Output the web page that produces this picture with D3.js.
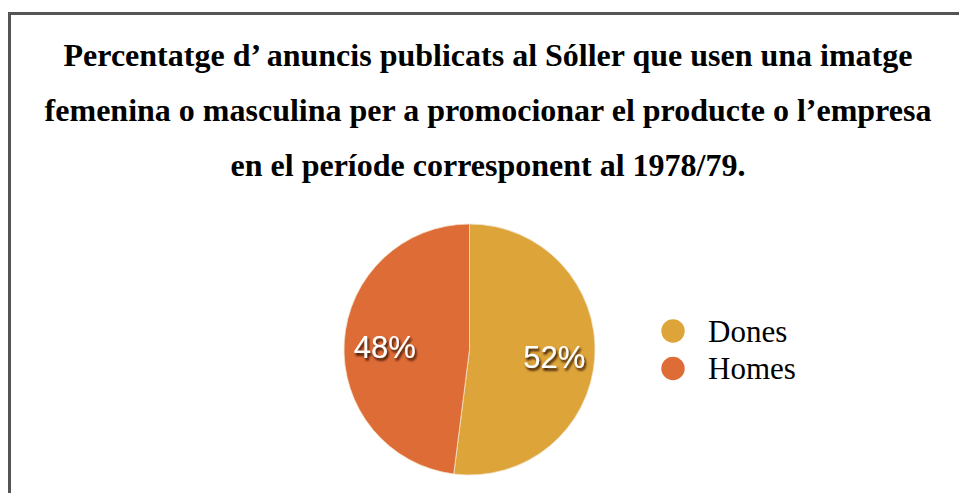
<!DOCTYPE html>
<html><head><meta charset="utf-8">
<script src="https://cdn.jsdelivr.net/npm/d3@7"></script>
<style>html,body{margin:0;padding:0;background:#fff;}svg{display:block;}</style>
</head><body>
<svg id="chart" width="959" height="493"></svg>
<script>
const titleLines = [
  "Percentatge d\u2019 anuncis publicats al S\u00f3ller que usen una imatge",
  "femenina o masculina per a promocionar el producte o l\u2019empresa",
  "en el per\u00edode corresponent al 1978/79."
];
const categories = ["Dones", "Homes"];
const values = [52, 48];
const colors = ["#DDA43A", "#DE6C37"];

const svg = d3.select("#chart");
const W = 959, H = 493;

const defs = svg.append("defs");
const f = defs.append("filter").attr("id","shadow").attr("x","-20%").attr("y","-20%").attr("width","140%").attr("height","160%");
f.append("feDropShadow").attr("dx",1.5).attr("dy",2.5).attr("stdDeviation",1.2).attr("flood-color","#2a1000").attr("flood-opacity",1);

// frame
svg.append("rect").attr("x",9.5).attr("y",13.5).attr("width",W).attr("height",H)
  .attr("fill","none").attr("stroke","#555").attr("stroke-width",3);

// title
svg.append("g").selectAll("text").data(titleLines).join("text")
  .attr("x", 488).attr("y",(d,i)=>66+i*55)
  .attr("text-anchor","middle")
  .attr("font-family","'Liberation Serif','Times New Roman',serif")
  .attr("font-weight","bold").attr("font-size",32).attr("fill","#000")
  .text(d=>d);

// pie
const cx = 469.5, cy = 349.5, r = 125.5;
const pie = d3.pie().sort(null).value(d=>d.v);
const data = pie(categories.map((c,i)=>({c, v: values[i], col: colors[i]})));
const arc = d3.arc().innerRadius(0).outerRadius(r);
const labelArc = d3.arc().innerRadius(85).outerRadius(85);
const g = svg.append("g").attr("transform",`translate(${cx},${cy})`);
g.selectAll("path").data(data).join("path")
  .attr("d",arc).attr("fill",d=>d.data.col).attr("stroke","#f3e2c8").attr("stroke-width",0.8);
g.selectAll("text").data(data).join("text")
  .attr("transform",d=>{const c=labelArc.centroid(d);return `translate(${c[0]},${c[1]+3})`;})
  .attr("text-anchor","middle").attr("dominant-baseline","central")
  .attr("font-family","'Liberation Sans',Helvetica,Arial,sans-serif")
  .attr("font-size",31).attr("fill","#fff").attr("filter","url(#shadow)")
  .text(d=>d.data.v+"%");

// legend
const leg = svg.append("g").attr("transform","translate(673,331)");
const items = leg.selectAll("g").data(categories).join("g").attr("transform",(d,i)=>`translate(0,${i*37.5})`);
items.append("circle").attr("r",11.7).attr("fill",(d,i)=>colors[i]);
items.append("text").attr("x",35).attr("y",10.5)
  .attr("font-family","'Liberation Serif','Times New Roman',serif").attr("font-size",31).attr("fill","#000")
  .text(d=>d);
</script>
</body></html>
